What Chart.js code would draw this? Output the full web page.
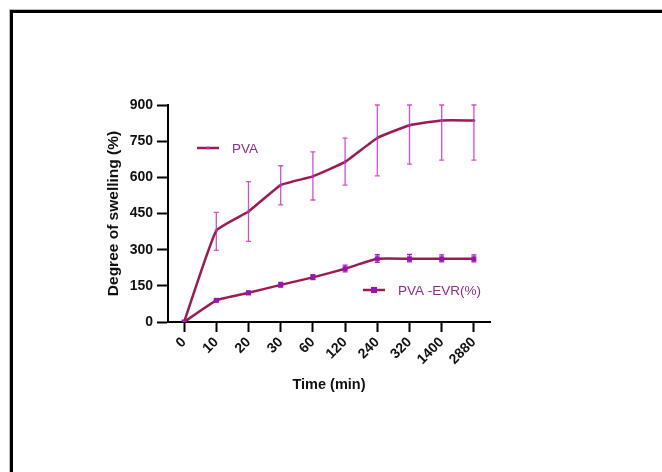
<!DOCTYPE html>
<html>
<head>
<meta charset="utf-8">
<script src="https://cdn.jsdelivr.net/npm/chart.js@4.4.1/dist/chart.umd.min.js"></script>
<style>
  html, body { margin: 0; padding: 0; background: #fff; }
  #wrap { position: relative; width: 662px; height: 472px; overflow: hidden; }
  #frame { position: absolute; left: 10px; top: 10px; width: 700px; height: 500px;
           border-top: 3px solid #000; border-left: 3px solid #000;
           box-shadow: -1px -1px 0 #bbb; }
  canvas { position: absolute; left: 0; top: 0; }
</style>
</head>
<body>
<div id="wrap">
  <div id="frame"></div>
  <canvas id="c" width="662" height="472"></canvas>
</div>
<script>
// ---- data ----
const timeLabels = ['0', '10', '20', '30', '60', '120', '240', '320', '1400', '2880'];
const pvaValues  = [0, 379, 458, 568, 604, 664, 763, 816, 836, 836];
const pvaLower   = [0, 297, 334, 486, 506, 568, 606, 655, 671, 671];
const pvaUpper   = [0, 455, 582, 648, 706, 763, 900, 900, 900, 900];
const evrValues  = [0, 90, 121, 154, 185, 221, 262, 262, 262, 262];
const evrLower   = [0, 84, 114, 145, 176, 208, 247, 249, 249, 249];
const evrUpper   = [0, 96, 128, 164, 196, 236, 279, 280, 278, 278];
const yTicks     = [0, 150, 300, 450, 600, 750, 900];
const seriesNames = ['PVA', 'PVA -EVR(%)'];

const LINE = '#9e1a4f';
const MARK = '#9a10c0';
const FONT = "'Liberation Sans', Arial, sans-serif";

const errorBars = {
  id: 'errorBars',
  beforeDatasetsDraw(chart) {
    const ctx = chart.ctx;
    const y = chart.scales.y;
    chart.data.datasets.forEach((ds, di) => {
      const meta = chart.getDatasetMeta(di);
      ctx.save();
      ctx.strokeStyle = ds.errColor;
      ctx.lineWidth = 1.3;
      meta.data.forEach((pt, i) => {
        const lo = ds.errLow[i], hi = ds.errHigh[i];
        if (lo === hi) return;
        const x = pt.x, yl = y.getPixelForValue(lo), yh = y.getPixelForValue(hi);
        const cw = 2.5;
        ctx.beginPath();
        ctx.moveTo(x, yl); ctx.lineTo(x, yh);
        ctx.moveTo(x - cw, yl); ctx.lineTo(x + cw, yl);
        ctx.moveTo(x - cw, yh); ctx.lineTo(x + cw, yh);
        ctx.stroke();
      });
      ctx.restore();
    });
  }
};

const legendPlugin = {
  id: 'inLegend',
  afterDatasetsDraw(chart) {
    const ctx = chart.ctx;
    const a = chart.chartArea;
    const items = [
      { ds: chart.data.datasets[0], x: a.left + 29, y: a.top + 43 },
      { ds: chart.data.datasets[1], x: a.left + 195, y: a.top + 185 }
    ];
    items.forEach(it => {
      ctx.save();
      ctx.strokeStyle = it.ds.borderColor;
      ctx.lineWidth = 2.5;
      ctx.beginPath();
      ctx.moveTo(it.x, it.y); ctx.lineTo(it.x + 22, it.y);
      ctx.stroke();
      ctx.fillStyle = it.ds.pointBackgroundColor;
      if (it.ds.pointStyle === 'rect') {
        ctx.fillRect(it.x + 11 - 3, it.y - 3, 6, 6);
      } else {
        ctx.beginPath(); ctx.arc(it.x + 11, it.y, 1.5, 0, Math.PI * 2); ctx.fill();
      }
      ctx.fillStyle = '#8a2f8c';
      ctx.font = '13.5px ' + FONT;
      ctx.textBaseline = 'middle';
      ctx.textAlign = 'left';
      ctx.fillText(it.ds.label, it.x + 35, it.y + 1);
      ctx.restore();
    });
  }
};

new Chart(document.getElementById('c'), {
  type: 'line',
  data: {
    labels: timeLabels,
    datasets: [
      {
        label: seriesNames[0], data: pvaValues,
        borderColor: LINE, borderWidth: 2.5, tension: 0.12,
        pointRadius: 1.5, pointStyle: 'circle',
        pointBackgroundColor: '#b030c0', pointBorderWidth: 0,
        errLow: pvaLower, errHigh: pvaUpper, errColor: '#d64fcb'
      },
      {
        label: seriesNames[1], data: evrValues,
        borderColor: LINE, borderWidth: 2.5, tension: 0.12,
        pointRadius: 3.5, pointStyle: 'rect',
        pointBackgroundColor: MARK, pointBorderColor: MARK, pointBorderWidth: 0,
        errLow: evrLower, errHigh: evrUpper, errColor: '#a81fc4'
      }
    ]
  },
  options: {
    responsive: false,
    animation: false,
    events: [],
    layout: { padding: { left: 104, right: 172, top: 105, bottom: 77 } },
    plugins: { legend: { display: false }, tooltip: { enabled: false } },
    scales: {
      x: {
        type: 'category',
        offset: true,
        afterFit(s) { s.height = 73; },
        grid: { display: true, drawOnChartArea: false, drawTicks: true, tickLength: 10,
                tickWidth: 2, tickColor: '#000', offset: false },
        border: { display: true, color: '#000', width: 2 },
        ticks: { color: '#111', font: { family: FONT, size: 14, weight: 'bold' },
                 minRotation: 45, maxRotation: 45, padding: 2, autoSkip: false },
        title: { display: true, text: 'Time (min)', color: '#111',
                 font: { family: FONT, size: 14.5, weight: 'bold' }, padding: { top: 0, bottom: 1 } }
      },
      y: {
        min: 0, max: 900,
        afterFit(s) { s.width = 64; },
        afterBuildTicks(s) { s.ticks = yTicks.map(v => ({ value: v })); },
        grid: { display: true, drawOnChartArea: false, drawTicks: true, tickLength: 11,
                tickWidth: 2, tickColor: '#000' },
        border: { display: true, color: '#000', width: 2 },
        ticks: { color: '#111', font: { family: FONT, size: 14, weight: 'bold' }, padding: 4 },
        title: { display: true, text: 'Degree of swelling (%)', color: '#111',
                 font: { family: FONT, size: 15.5, weight: 'bold' }, padding: { top: 0, bottom: 0 } }
      }
    }
  },
  plugins: [errorBars, legendPlugin]
});
</script>
</body>
</html>
